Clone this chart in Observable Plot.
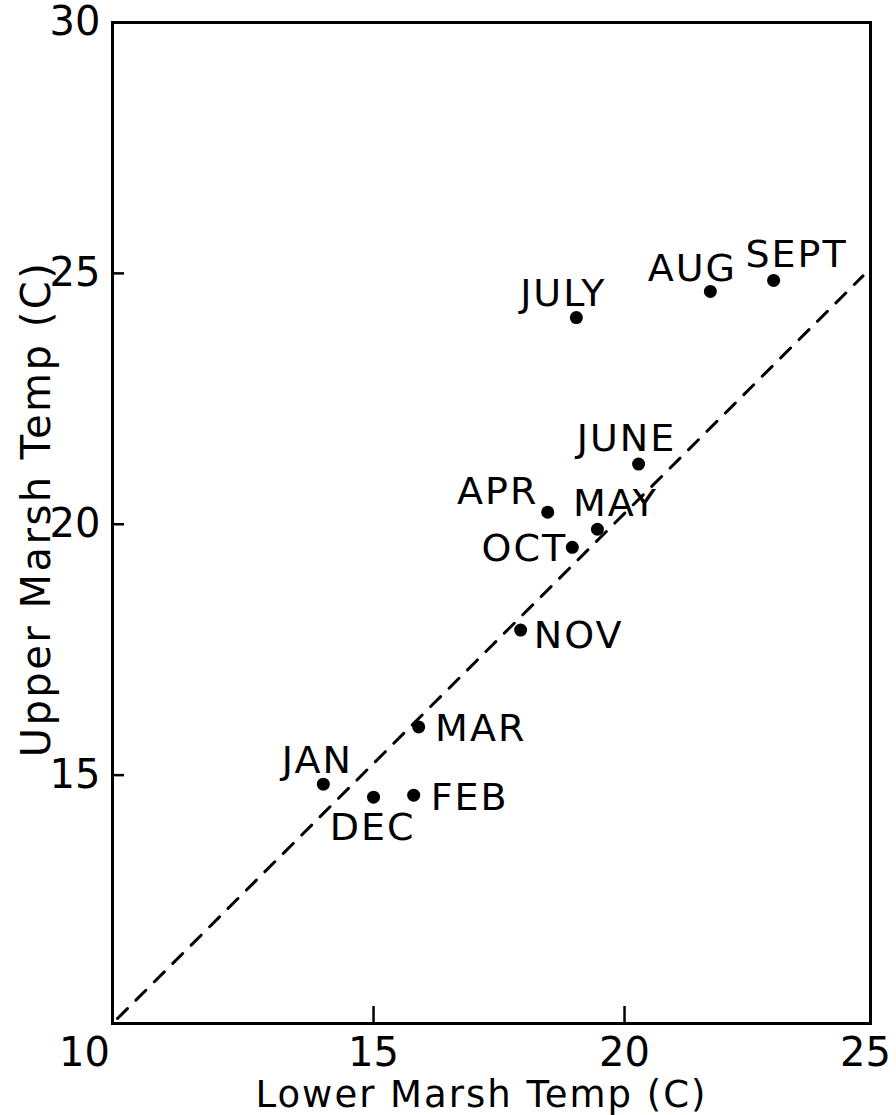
<!DOCTYPE html>
<html>
<head>
<meta charset="utf-8">
<script src="https://cdn.jsdelivr.net/npm/d3@7"></script>
<script src="https://cdn.jsdelivr.net/npm/@observablehq/plot@0.6"></script>
<style>
  html, body { margin: 0; padding: 0; background: #fff; }
  #chart svg text { letter-spacing: 2px; }
  #chart svg g[aria-label$="tick label"] text { letter-spacing: 0; }
  #chart svg g.ytitle text { letter-spacing: 2.5px; }
</style>
</head>
<body>
<div id="chart"></div>
<script>
// ---- data ----
const months    = ["JAN", "FEB", "MAR", "APR", "MAY", "JUNE", "JULY", "AUG", "SEPT", "OCT", "NOV", "DEC"];
const lowerTemp = [14.00, 15.80, 15.90, 18.47, 19.46, 20.28, 19.04, 21.71, 22.97, 18.96, 17.93, 15.00];
const upperTemp = [14.82, 14.60, 15.96, 20.24, 19.90, 21.20, 24.12, 24.64, 24.86, 19.54, 17.89, 14.56];

// reference (1:1) dashed line as drawn
const refLower = [9.9, 24.75];
const refUpper = [10.15, 24.95];

// axis ticks
const xTickMarks = [15, 20];
const yTickMarks = [15, 20, 25];
const xTickLabels = [10, 15, 20, 25];
const yTickLabels = [15, 20, 25, 30];

const xTitle = "Lower Marsh Temp (C)";
const yTitle = "Upper Marsh Temp (C)";

// ---- layout ----
const W = 896, H = 1115;
const mL = 112, mR = 26, mT = 22, mB = 92;
const plotW = W - mL - mR, plotH = H - mT - mB;

// label placement (pixel offsets from each dot)
const labelPlacement = {
  JAN: [-6, -23], FEB: [56, 3], MAR: [62, 2], APR: [-50, -20],
  MAY: [18, -25], JUNE: [-12, -25], JULY: [-13, -24], AUG: [-18, -23],
  SEPT: [23, -26], OCT: [-48, 1], NOV: [58, 6], DEC: [-1, 31]
};

const idx = months.map((_, i) => i);
const font = "DejaVu Sans";
const fmt = d => String(d);

const labelMarks = idx.map(i => {
  const [dx, dy] = labelPlacement[months[i]];
  return Plot.text([i], {
    x: j => lowerTemp[j], y: j => upperTemp[j], text: j => months[j],
    dx, dy, fontSize: 38, fill: "black", textAnchor: "middle", lineAnchor: "middle"
  });
});

const chart = Plot.plot({
  width: W,
  height: H,
  marginLeft: mL,
  marginRight: mR,
  marginTop: mT,
  marginBottom: mB,
  style: { fontFamily: font, background: "white", color: "black" },
  x: { domain: [9.8, 24.9], axis: null },
  y: { domain: [10.05, 30], axis: null },
  marks: [
    // inward tick marks (short rules against the frame)
    Plot.ruleX(xTickMarks, { x: d => d, insetTop: plotH - 17, stroke: "black", strokeWidth: 2.5 }),
    Plot.ruleY(yTickMarks, { y: d => d, insetRight: plotW - 12, stroke: "black", strokeWidth: 2.5 }),
    Plot.frame({ stroke: "black", strokeWidth: 3 }),
    // tick labels
    Plot.axisX([xTickLabels[0]], { tickSize: 0, tickPadding: 14, fontSize: 40, dx: -38, tickFormat: fmt, label: null }),
    Plot.axisX(xTickLabels.slice(1, 3), { tickSize: 0, tickPadding: 14, fontSize: 40, tickFormat: fmt, label: null }),
    Plot.axisX([xTickLabels[3]], { tickSize: 0, tickPadding: 14, fontSize: 40, dx: -10, tickFormat: fmt, label: null }),
    Plot.axisY(yTickLabels, { tickSize: 0, tickPadding: 12, fontSize: 40, tickFormat: fmt, label: null }),
    // dashed reference line
    Plot.line([0, 1], {
      x: i => refLower[i], y: i => refUpper[i],
      stroke: "black", strokeWidth: 3, strokeDasharray: "14,12"
    }),
    // points
    Plot.dot(idx, { x: i => lowerTemp[i], y: i => upperTemp[i], r: 6.5, fill: "black", stroke: "none" }),
    ...labelMarks,
    // axis titles
    Plot.text([xTitle], { frameAnchor: "bottom", textAnchor: "middle", lineAnchor: "middle", dx: -10, dy: 72, fontSize: 37, fill: "black" }),
    Plot.text([yTitle], { frameAnchor: "left", textAnchor: "middle", lineAnchor: "middle", rotate: -90, dx: -75, dy: -14, fontSize: 40, fill: "black", className: "ytitle" })
  ]
});

document.getElementById("chart").appendChild(chart);
</script>
</body>
</html>
